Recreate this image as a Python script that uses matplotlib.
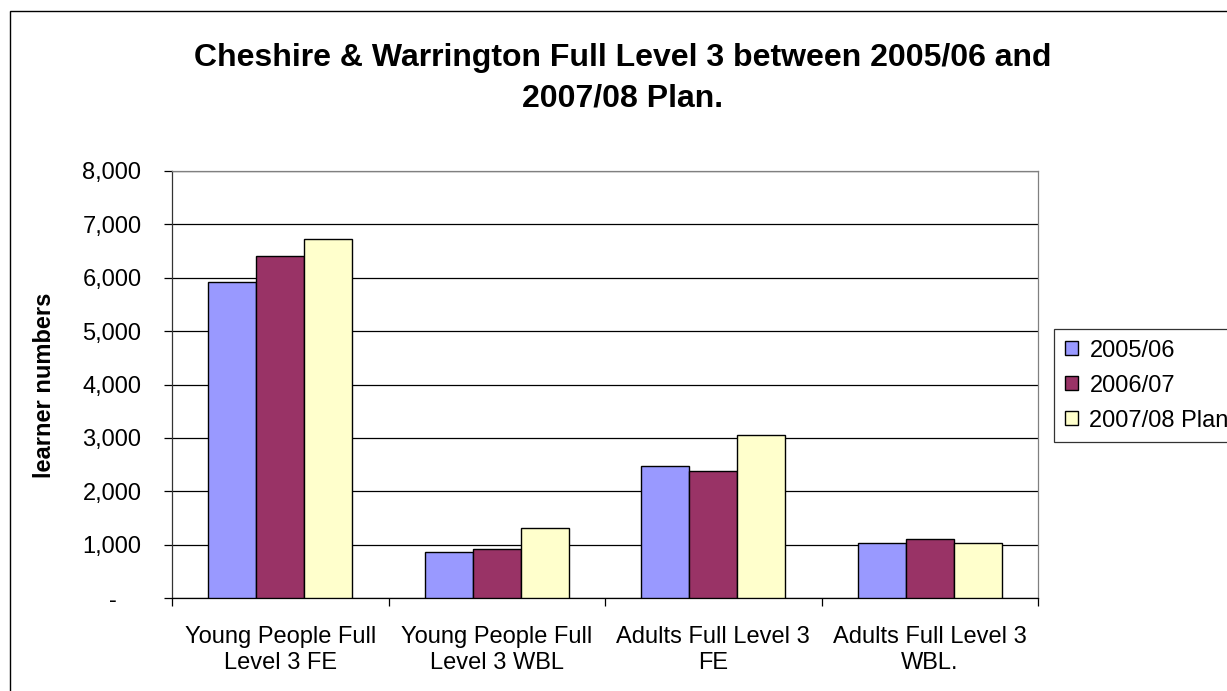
import matplotlib
matplotlib.use("Agg")
import matplotlib.pyplot as plt
import matplotlib.transforms as mtransforms
from matplotlib.patches import Rectangle
import numpy as np

plt.rcParams['font.family'] = ['Liberation Sans', 'DejaVu Sans']

categories = ["Young People Full\nLevel 3 FE", "Young People Full\nLevel 3 WBL",
              "Adults Full Level 3\nFE", "Adults Full Level 3\nWBL."]
series_names = ["2005/06", "2006/07", "2007/08 Plan"]
values_0506 = [5925, 854, 2477, 1023]
values_0607 = [6410, 917, 2371, 1110]
values_0708 = [6723, 1311, 3052, 1023]
y_ticks = [0, 1000, 2000, 3000, 4000, 5000, 6000, 7000, 8000]
y_tick_labels = ["-", "1,000", "2,000", "3,000", "4,000", "5,000", "6,000", "7,000", "8,000"]
colors = ["#9999FF", "#993366", "#FFFFCC"]

W, H = 1227, 691
fig = plt.figure(figsize=(W / 100, H / 100), dpi=100)
ax = fig.add_axes([172 / W, 1 - 598 / H, (1038 - 172) / W, (598 - 171) / H])

x = np.arange(len(categories))
bw = 1 / 4.5
for i, (vals, name, c) in enumerate(zip([values_0506, values_0607, values_0708], series_names, colors)):
    ax.bar(x + (i - 1) * bw, vals, width=bw, color=c, edgecolor="black", linewidth=1, label=name, zorder=3)

ax.set_xlim(-0.5, len(categories) - 0.5)
ax.set_ylim(0, 8000)
ax.set_yticks(y_ticks, y_tick_labels)
ax.yaxis.grid(True, color="black", linewidth=0.9, zorder=0)
ax.set_axisbelow(True)
ax.tick_params(axis="y", direction="out", length=5.5, width=0.9, pad=16.5, labelsize=17)

ax.set_xticks(x, categories)
ax.set_xticks(np.arange(len(categories) + 1) - 0.5, minor=True)
ax.tick_params(axis="x", which="major", length=0, pad=20, labelsize=17)
ax.tick_params(axis="x", which="minor", direction="out", length=5.5, width=0.9)
for lbl in ax.get_xticklabels():
    lbl.set_linespacing(1.25)

# zero label "-" sits further left, like the Excel accounting format
zero_lbl = ax.yaxis.get_major_ticks()[0].label1
zero_lbl.set_transform(zero_lbl.get_transform() + mtransforms.ScaledTranslation(-25 / 100, 0, fig.dpi_scale_trans))

ax.spines["top"].set_color("#808080")
ax.spines["right"].set_color("#808080")
ax.spines["left"].set_color("#333333")
ax.spines["bottom"].set_color("black")
for s in ax.spines.values():
    s.set_linewidth(0.9)

fig.text(623 / W, 1 - 78 / H, "Cheshire & Warrington Full Level 3 between 2005/06 and\n2007/08 Plan.",
         ha="center", va="center", fontsize=23, fontweight="bold", linespacing=1.45)
fig.text(45 / W, 1 - 385 / H, "learner numbers", rotation=90, ha="center", va="center",
         fontsize=17, fontweight="bold")

leg = fig.legend(loc="upper left", bbox_to_anchor=(1054 / W, 1 - 329 / H), borderaxespad=0,
                 fontsize=17, frameon=True, fancybox=False, shadow=False,
                 handlelength=0.55, handleheight=0.55, handletextpad=0.5,
                 labelspacing=0.55, borderpad=0.45)
leg.get_frame().set_edgecolor("black")
leg.get_frame().set_linewidth(0.9)

fig.patches.append(Rectangle((10 / W, -0.1), 1.2, 1.1 - 11 / H, transform=fig.transFigure,
                             fill=False, edgecolor="black", linewidth=1))

fig.savefig("out.png", dpi=100)
